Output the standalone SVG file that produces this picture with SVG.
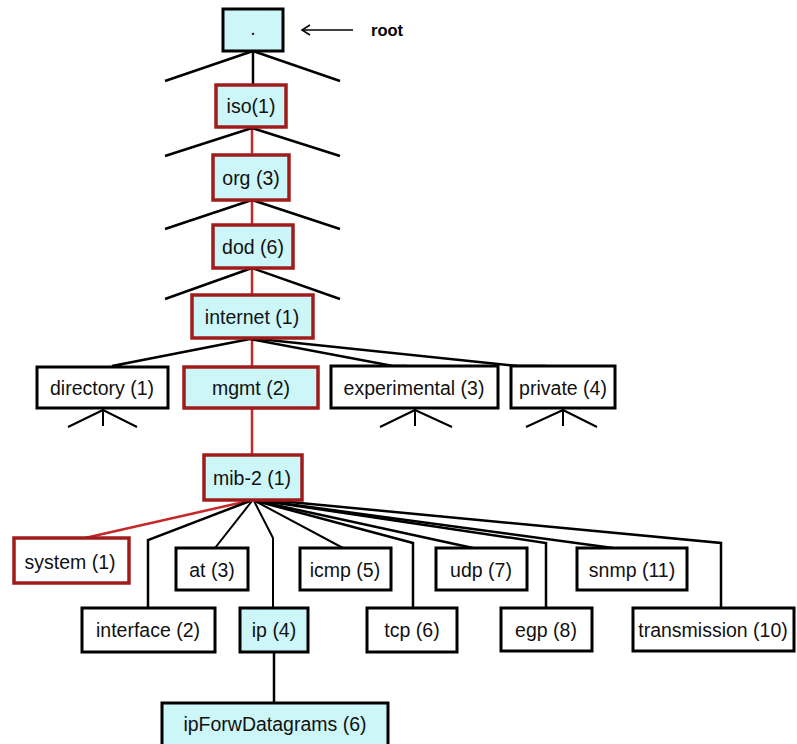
<svg xmlns="http://www.w3.org/2000/svg" width="797" height="744" viewBox="0 0 797 744">
<defs>
<style>
.n rect{stroke:#000;stroke-width:3;fill:#fff}
.n.c rect{fill:#ccf6f8}
.n.r rect{stroke:#a01c1c;stroke-width:3.5}
.n text{font-family:"Liberation Sans",Arial,sans-serif;font-size:19.5px;fill:#111;text-anchor:middle;dominant-baseline:central}
.k line,.k polyline{stroke:#000;stroke-width:2.5;fill:none}
.k .t{stroke-width:2}
.k .red{stroke:#c62828;stroke-width:2.5}
</style>
</defs>
<rect width="797" height="744" fill="#fff"/>
<g id="connectors" class="k">
<line x1="253" y1="51" x2="253" y2="85"/>
<line x1="253" y1="51" x2="165" y2="81"/>
<line x1="253" y1="51" x2="340" y2="81"/>
<line class="red" x1="252" y1="127" x2="252" y2="155"/>
<line x1="252" y1="128" x2="165" y2="156"/>
<line x1="252" y1="128" x2="340" y2="156"/>
<line class="red" x1="252" y1="200" x2="252" y2="225"/>
<line x1="252" y1="200" x2="165" y2="229"/>
<line x1="252" y1="200" x2="340" y2="229"/>
<line class="red" x1="252" y1="268" x2="252" y2="295"/>
<line x1="252" y1="268" x2="165" y2="299"/>
<line x1="252" y1="268" x2="340" y2="299"/>
<line class="red" x1="252" y1="338" x2="252" y2="367"/>
<polyline points="250,339 112,366 122,366"/>
<polyline points="250,339 393,366 407,366"/>
<polyline points="250,338 518,366 546,366"/>
<line class="t" x1="103" y1="408" x2="103" y2="426"/>
<line class="t" x1="103" y1="410" x2="68" y2="427"/>
<line class="t" x1="103" y1="410" x2="137" y2="427"/>
<line class="t" x1="415" y1="408" x2="415" y2="426"/>
<line class="t" x1="415" y1="410" x2="380" y2="427"/>
<line class="t" x1="415" y1="410" x2="452" y2="427"/>
<line class="t" x1="563" y1="408" x2="563" y2="426"/>
<line class="t" x1="563" y1="410" x2="526" y2="427"/>
<line class="t" x1="563" y1="410" x2="597" y2="427"/>
<line class="red" x1="252" y1="408" x2="252" y2="455"/>
<line class="red" x1="248" y1="501" x2="85" y2="538"/>
<polyline points="250,501 148,540 148,608"/>
<line class="t" x1="252" y1="501" x2="215" y2="548"/>
<polyline class="t" points="254,501 273,538 273,607"/>
<line class="t" x1="255" y1="501" x2="343" y2="548"/>
<polyline points="256,501 413,543 413,607"/>
<polyline points="257,501 473,548"/>
<polyline points="257,500 546,543 546,607"/>
<polyline points="258,500 613,548"/>
<polyline points="258,499 721,543 721,607"/>
<line x1="274" y1="652" x2="274" y2="703"/>
<line x1="302" y1="30" x2="353" y2="30" style="stroke-width:1.5"/>
<polyline points="310,25 302,30 310,35" style="stroke-width:1.5"/>
</g>
<text x="371" y="36" font-family="Liberation Sans,Arial,sans-serif" font-size="16.5" font-weight="bold" fill="#000">root</text>
<g id="root" class="n c"><rect x="223" y="9" width="60" height="42"/><text x="253" y="28">.</text></g>
<g id="iso" class="n c r"><rect x="216" y="85" width="70" height="42"/><text x="251" y="106">iso(1)</text></g>
<g id="org" class="n c r"><rect x="213" y="155" width="76" height="45"/><text x="251" y="178">org (3)</text></g>
<g id="dod" class="n c r"><rect x="213" y="225" width="80" height="43"/><text x="253" y="247">dod (6)</text></g>
<g id="internet" class="n c r"><rect x="192" y="295" width="121" height="43"/><text x="252" y="317">internet (1)</text></g>
<g id="directory" class="n"><rect x="37" y="367" width="131" height="41"/><text x="102" y="388">directory (1)</text></g>
<g id="mgmt" class="n c r"><rect x="184" y="367" width="134" height="41"/><text x="251" y="388">mgmt (2)</text></g>
<g id="experimental" class="n"><rect x="331" y="366" width="167" height="42"/><text x="414" y="388">experimental (3)</text></g>
<g id="private" class="n"><rect x="511" y="366" width="104" height="42"/><text x="563" y="388">private (4)</text></g>
<g id="mib-2" class="n c r"><rect x="204" y="455" width="98" height="45"/><text x="252" y="478">mib-2 (1)</text></g>
<g id="system" class="n r"><rect x="14" y="538" width="115" height="45"/><text x="70" y="562">system (1)</text></g>
<g id="at" class="n"><rect x="176" y="548" width="72" height="42"/><text x="212" y="570">at (3)</text></g>
<g id="icmp" class="n"><rect x="300" y="548" width="91" height="42"/><text x="345" y="570">icmp (5)</text></g>
<g id="udp" class="n"><rect x="436" y="548" width="91" height="42"/><text x="481" y="570">udp (7)</text></g>
<g id="snmp" class="n"><rect x="577" y="548" width="110" height="42"/><text x="632" y="570">snmp (11)</text></g>
<g id="interface" class="n"><rect x="82" y="608" width="133" height="44"/><text x="148" y="630">interface (2)</text></g>
<g id="ip" class="n c"><rect x="240" y="608" width="68" height="44"/><text x="274" y="630">ip (4)</text></g>
<g id="tcp" class="n"><rect x="367" y="608" width="90" height="44"/><text x="412" y="630">tcp (6)</text></g>
<g id="egp" class="n"><rect x="501" y="608" width="91" height="43"/><text x="546" y="630">egp (8)</text></g>
<g id="transmission" class="n"><rect x="633" y="608" width="161" height="43"/><text x="713" y="630">transmission (10)</text></g>
<g id="ipForwDatagrams" class="n c"><rect x="162" y="703" width="226" height="44"/><text x="275" y="724">ipForwDatagrams (6)</text></g>
</svg>
